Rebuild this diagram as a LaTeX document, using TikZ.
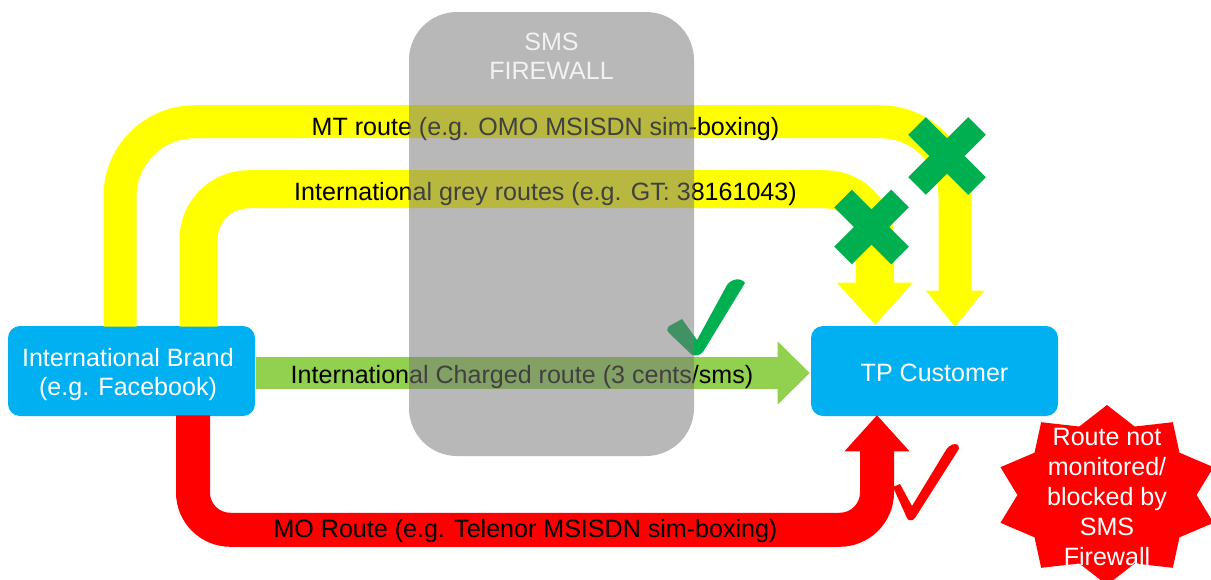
\documentclass[tikz,border=0pt]{standalone}
\usepackage{fontspec}
\setmainfont{Liberation Sans}
\usetikzlibrary{calc}
\definecolor{brandcyan}{RGB}{0,176,240}
\definecolor{routeyellow}{RGB}{255,255,0}
\definecolor{routegreen}{RGB}{146,208,80}
\definecolor{markgreen}{RGB}{0,176,80}
\definecolor{routered}{RGB}{255,0,0}
\definecolor{fwgray}{RGB}{121,121,121}
\newcommand\diagfont{\fontsize{18.8}{21.75}\selectfont}
\newcommand\notefont{\fontsize{18.8}{22.5}\selectfont}
\begin{document}
\begin{tikzpicture}[x=0.75pt,y=-0.75pt,
  endpoint/.style={fill=brandcyan, rounded corners=9pt,
    minimum width=185.25pt, minimum height=67.5pt, inner sep=0pt},
  endtext/.style={inner sep=0pt, text=white, align=center, font=\diagfont},
  yband/.style={draw=routeyellow, line cap=butt},
  rband/.style={draw=routered, line cap=butt},
  gband/.style={draw=routegreen, line cap=butt},
  routelabel/.style={inner sep=0pt, text=black, font=\diagfont},
  fwbox/.style={fill=fwgray, fill opacity=0.53, rounded corners=36pt,
    minimum width=213.75pt, minimum height=333pt, inner sep=0pt},
  xmark/.style={draw=markgreen, line width=18.75pt, line cap=butt},
  notetext/.style={inner sep=0pt, text=white, align=center, font=\notefont}]

\useasboundingbox (0,0) rectangle (1211,579);
\clip (0,0) rectangle (1211,579);
\fill[white] (0,0) rectangle (1211,579);

% the two endpoints
\node[endpoint] (brand) at (131.5,371) {};
\node[endpoint] (tp) at (934.5,371) {};
\node[endtext] (brandtext) at (128,375) {International Brand\\(e.g. Facebook)};
\node[endtext] (tptext) at (934.5,373) {TP Customer};

% MT route
\draw[yband, line width=24.75pt, rounded corners=56pt]
  ($(brand.north)+(-11.5,1)$) |- ($(tp.north)+(20.5,-204)$) -- ($(tp.north)+(20.5,-33)$);
\fill[routeyellow] ($(tp.north)+(20.5,1)$) -- ++(-29,-36) -- ++(58,0) -- cycle;

% international grey routes
\draw[yband, line width=28.5pt, rounded corners=37.5pt]
  ($(brand.north)+(67,1)$) |- ($(tp.north)+(-59.5,-136.5)$) -- ($(tp.north)+(-59.5,-41)$);
\fill[routeyellow] ($(tp.north)+(-59.5,-1)$) -- ++(-38,-42) -- ++(76,0) -- cycle;

% international charged route
\draw[gband, line width=24pt]
  ($(brand.east)+(1,2)$) -- ($(tp.west)+(-30,2)$);
\fill[routegreen] ($(tp.west)+(-1,2)$) -- ++(-32,-31.5) -- ++(0,63) -- cycle;

% MO route
\draw[rband, line width=25.5pt, rounded corners=28pt]
  ($(brand.south)+(61.5,-1)$) |- ($(tp.south)+(-57.5,113.5)$) -- ($(tp.south)+(-57.5,34)$);
\fill[routered] ($(tp.south)+(-57.5,-1)$) -- ++(-32.5,36) -- ++(65,0) -- cycle;

% route labels
\node[routelabel] (lmt) at (545.5,129) {MT route (e.g. OMO MSISDN sim-boxing)};
\node[routelabel] (lgrey) at (545.5,194) {International grey routes (e.g. GT: 38161043)};
\node[routelabel] (lcharged) at (522,377) {International Charged route (3 cents/sms)};
\node[routelabel] (lmo) at (525.5,531) {MO Route (e.g. Telenor MSISDN sim-boxing)};

% green tick on the charged route
\fill[markgreen] (673,324) -- (682,319) -- (697,340) -- (727,285)
  .. controls (731,279) and (741,277) .. (745,283) -- (703,352)
  .. controls (700,356) and (692,357) .. (690,353) -- (669,333)
  .. controls (665,329) and (668,326) .. (673,324) -- cycle;

% SMS firewall
\node[fwbox] (fw) at (551.5,234) {};
\node[inner sep=0pt, text=white!95!black, align=center, font=\diagfont]
  (fwlabel) at (551.5,56.5) {SMS\\FIREWALL};

% blocked marks
\draw[xmark] (917,126) -- (977,186) (917,186) -- (977,126);
\draw[xmark] (843,198.5) -- (900,255.5) (843,255.5) -- (900,198.5);

% red tick on the MO route
\fill[routered] (893,487) -- (900,484) -- (912,506) -- (946,450)
  .. controls (950,444) and (955,443) .. (958,445)
  .. controls (960,447) and (959,450) .. (957,452) -- (915,518)
  .. controls (913,521) and (908,521) .. (907,518) -- cycle;

% warning burst
\fill[routered] (1107,405) \foreach \k in {1,...,19}{
  -- ({1107+112*(1-0.2*mod(\k,2))*cos(90+18*\k)},{495-90*(1-0.2*mod(\k,2))*sin(90+18*\k)})
  } -- cycle;
\node[notetext] (note) at (1107,497) {Route not\\monitored/\\blocked by\\SMS\\Firewall};
\end{tikzpicture}
\end{document}
